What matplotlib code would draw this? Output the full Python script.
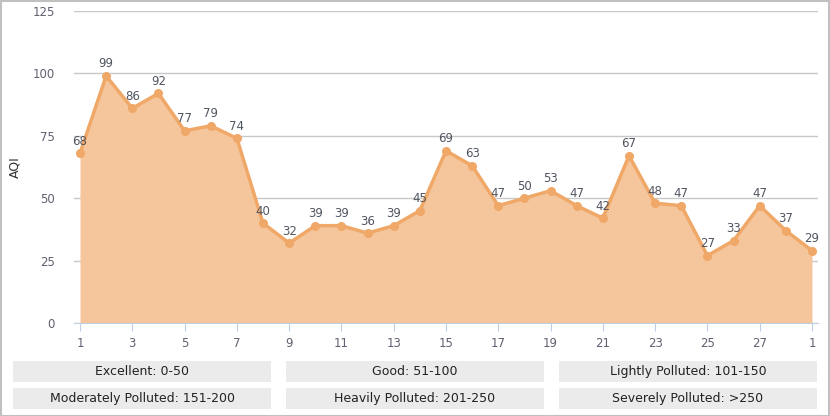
import matplotlib
matplotlib.use("Agg")
import matplotlib.pyplot as plt
from matplotlib.patches import Rectangle

# daily AQI values
aqi = [68, 99, 86, 92, 77, 79, 74, 40, 32, 39, 39, 36, 39, 45, 69, 63, 47, 50,
       53, 47, 42, 67, 48, 47, 27, 33, 47, 37, 29]
tick_labels = ["1", "3", "5", "7", "9", "11", "13", "15", "17", "19", "21",
               "23", "25", "27", "1"]
y_ticks = [0, 25, 50, 75, 100, 125]
legend_rows = [["Excellent: 0-50", "Good: 51-100", "Lightly Polluted: 101-150"],
               ["Moderately Polluted: 151-200", "Heavily Polluted: 201-250",
                "Severely Polluted: >250"]]

W, H = 830, 416
fig = plt.figure(figsize=(W / 100, H / 100), dpi=100)
fig.patch.set_facecolor("white")

ax = fig.add_axes([74 / W, (H - 323) / H, 744 / W, 312 / H])
x = list(range(len(aqi)))
ax.fill_between(x, aqi, 0, color="#f5c59b", lw=0, zorder=2)
ax.plot(x, aqi, color="#f0a868", lw=2.5, marker="o", ms=5.5, zorder=3)
for xi, v in zip(x, aqi):
    ax.annotate(str(v), (xi, v), xytext=(0, 4), textcoords="offset points",
                ha="center", va="bottom", fontsize=8.5, color="#505560", zorder=4)

ax.set_xlim(-0.23, 28.23)
ax.set_ylim(0, 125)
ax.set_yticks(y_ticks)
ax.set_xticks(x[::2])
ax.set_xticklabels(tick_labels)
ax.grid(axis="y", color="#c8c8c8", lw=1, zorder=2.5)
for s in ["top", "right", "left"]:
    ax.spines[s].set_visible(False)
ax.spines["bottom"].set_color("#c0d0e0")
ax.spines["bottom"].set_zorder(5)
ax.tick_params(axis="y", length=0, pad=14, labelsize=8.5, labelcolor="#606070")
ax.tick_params(axis="x", length=6, color="#c0d0e0", pad=4, labelsize=8.5,
               labelcolor="#606070")
ax.set_ylabel("AQI", fontsize=9, color="#333333")
ax.yaxis.set_label_coords(-0.071, 0.5)

# legend boxes under the chart
col_x = [13, 286, 559]
row_y = [361, 388]
for r, row in enumerate(legend_rows):
    for c, label in enumerate(row):
        x0, y0 = col_x[c], row_y[r]
        fig.patches.append(Rectangle((x0 / W, (H - y0 - 21) / H), 258 / W, 21 / H,
                                     transform=fig.transFigure,
                                     color="#ebebeb", lw=0))
        fig.text((x0 + 129) / W, (H - y0 - 10.5) / H, label, ha="center",
                 va="center", fontsize=9, color="#222222")

# outer border
fig.patches.append(Rectangle((0.5 / W, 0.5 / H), (W - 1.5) / W, (H - 1.5) / H,
                             transform=fig.transFigure, fill=False,
                             ec="#c0c0c0", lw=1.5))

fig.savefig("out.png", dpi=100)
